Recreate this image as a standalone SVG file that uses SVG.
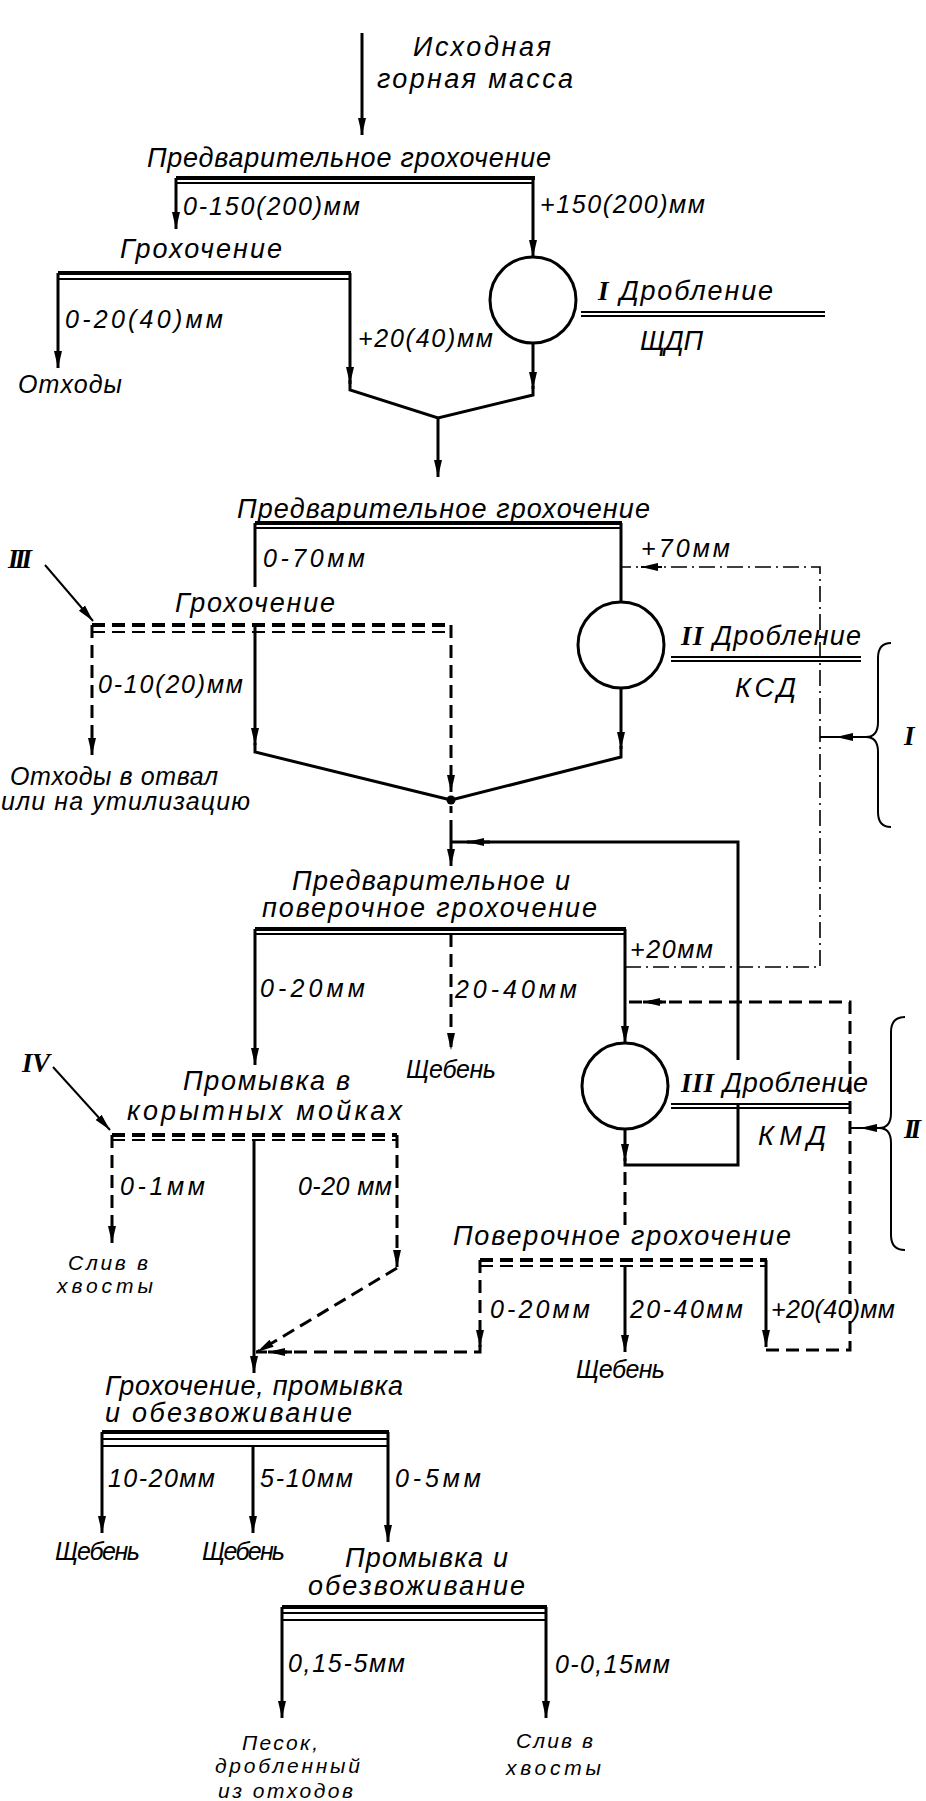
<svg xmlns="http://www.w3.org/2000/svg" width="926" height="1801" viewBox="0 0 926 1801">
<style>
.ln{stroke:#000;stroke-width:3;fill:none}
.bk{stroke:#000;stroke-width:4;fill:none}
.tn{stroke:#000;stroke-width:2;fill:none}
.ds{stroke-dasharray:13 7}
.dd{stroke:#000;stroke-width:1.6;fill:none;stroke-dasharray:16 5 2 5}
.t{font-family:"Liberation Sans","DejaVu Sans",sans-serif;font-style:italic;font-size:25px;fill:#000}
.h{font-size:27px}
.s{font-size:21px}
.r{font-family:"Liberation Serif","DejaVu Serif",serif;font-style:italic;font-weight:bold;font-size:27px;fill:#000}
</style>
<defs>
<marker id="a" markerUnits="userSpaceOnUse" markerWidth="18" markerHeight="10" refX="17" refY="5" orient="auto"><path d="M0,1 L17,5 L0,9 Z" fill="#000" stroke="none"/></marker>
</defs>
<rect width="926" height="1801" fill="#fff"/>

<g id="connectors">
<path class="ln" d="M362,33 V135" marker-end="url(#a)"/>
<path class="ln" d="M176,178 V229" marker-end="url(#a)"/>
<path class="ln" d="M533,178 V257" marker-end="url(#a)"/>
<path class="ln" d="M58,273 V368" marker-end="url(#a)"/>
<path class="ln" d="M350,273 V384" marker-end="url(#a)"/>
<path class="ln" d="M533,343 V389" marker-end="url(#a)"/>
<path class="ln" d="M533,386 V395 L438,418 L350,390 V380"/>
<path class="ln" d="M438,418 V477" marker-end="url(#a)"/>
<path class="ln" d="M255,523 V587"/>
<path class="ln" d="M255,627 V745" marker-end="url(#a)"/>
<path class="ln" d="M255,743 V752 L451,800"/>
<path class="ln" d="M621,523 V602"/>
<path class="ln" d="M621,688 V749" marker-end="url(#a)"/>
<path class="ln" d="M621,746 V757 L451,800"/>
<path class="ln ds" d="M92,625 V755" marker-end="url(#a)"/>
<path class="ln ds" d="M451,625 V792" marker-end="url(#a)"/>
<circle cx="451" cy="800" r="4.5" fill="#000"/>
<path class="ln" d="M451,806 V813"/>
<path class="ln" d="M451,820 V866" marker-end="url(#a)"/>
<path class="dd" d="M625,967 H820 V567 H621"/>
<path class="tn" d="M662,567 H641" marker-end="url(#a)"/>
<path class="tn" d="M866,737 H820"/>
<path class="tn" d="M856,737 H836" marker-end="url(#a)"/>
<path class="ln" d="M255,929 V1065" marker-end="url(#a)"/>
<path class="ln ds" d="M451,934 V1050" marker-end="url(#a)"/>
<path class="ln" d="M625,929 V1043" marker-end="url(#a)"/>
<path class="ln" d="M625,1129 V1161" marker-end="url(#a)"/>
<path class="ln" d="M625,1158 V1165 H738 V1104"/>
<path class="ln" d="M738,1060 V842 H451"/>
<path class="ln" d="M490,842 H467" marker-end="url(#a)"/>
<path class="ln ds" d="M766,1350 H850 V1002 H625"/>
<path class="ln" d="M666,1002 H643" marker-end="url(#a)"/>
<path class="tn" d="M879,1128 H850"/>
<path class="tn" d="M877,1128 H860" marker-end="url(#a)"/>
<path class="ln ds" d="M625,1172 V1232"/>
<path class="ln ds" d="M112,1135 V1243" marker-end="url(#a)"/>
<path class="ln" d="M254,1140 V1373" marker-end="url(#a)"/>
<path class="ln ds" d="M397,1135 V1267" marker-end="url(#a)"/>
<path class="ln ds" d="M397,1268 L257,1352" marker-end="url(#a)"/>
<path class="ln ds" d="M480,1260 V1347" marker-end="url(#a)"/>
<path class="ln ds" d="M480,1345 V1352 H256"/>
<path class="ln" d="M292,1352 H268" marker-end="url(#a)"/>
<path class="ln" d="M625,1266 V1352" marker-end="url(#a)"/>
<path class="ln" d="M766,1260 V1347" marker-end="url(#a)"/>
<path class="ln" d="M102,1432 V1533" marker-end="url(#a)"/>
<path class="ln" d="M253,1446 V1533" marker-end="url(#a)"/>
<path class="ln" d="M388,1432 V1542" marker-end="url(#a)"/>
<path class="ln" d="M282,1607 V1718" marker-end="url(#a)"/>
<path class="ln" d="M546,1607 V1718" marker-end="url(#a)"/>
<path class="tn" d="M45,565 L93,621" marker-end="url(#a)"/>
<path class="tn" d="M53,1067 L110,1130" marker-end="url(#a)"/>
</g>

<g id="n-feed">
<text class="t h" x="413" y="56" textLength="138">Исходная</text>
<text class="t h" x="377" y="88" textLength="196">горная масса</text>
</g>

<g id="n-screen1">
<text class="t h" x="147" y="167" textLength="404">Предварительное грохочение</text>
<path class="bk" d="M176,178 H535"/>
<path class="tn" d="M176,183 H533"/>
<text class="t" x="183" y="215" textLength="177">0-150(200)мм</text>
<text class="t" x="540" y="213" textLength="165">+150(200)мм</text>
</g>

<g id="n-screen2">
<text class="t h" x="120" y="258" textLength="162">Грохочение</text>
<path class="bk" d="M58,273 H351"/>
<path class="tn" d="M58,279 H350"/>
<text class="t" x="65" y="328" textLength="158">0-20(40)мм</text>
<text class="t" x="358" y="347" textLength="135">+20(40)мм</text>
</g>

<g id="n-waste1">
<text class="t" x="18" y="393" textLength="104">Отходы</text>
</g>

<g id="n-crusher1">
<circle class="ln" cx="533" cy="300" r="43"/>
<text class="t h" x="598" y="300" textLength="175"><tspan class="r">I</tspan> Дробление</text>
<path class="tn" d="M581,312 H825 M581,316 H825"/>
<text class="t h" x="640" y="350" textLength="63">ЩДП</text>
</g>

<g id="n-screen3">
<text class="t h" x="237" y="518" textLength="413">Предварительное грохочение</text>
<path class="bk" d="M255,523 H622"/>
<path class="tn" d="M255,528 H621"/>
<text class="t" x="263" y="567" textLength="102">0-70мм</text>
<text class="t" x="641" y="557" textLength="89">+70мм</text>
</g>

<g id="n-screen4">
<text class="r" x="8" y="568" textLength="24">III</text>
<text class="t h" x="175" y="612" textLength="160">Грохочение</text>
<path class="bk ds" d="M92,625 H452"/>
<path class="tn ds" d="M92,632 H452"/>
<text class="t" x="98" y="693" textLength="145">0-10(20)мм</text>
</g>

<g id="n-waste2">
<text class="t" x="10" y="785" textLength="208">Отходы в отвал</text>
<text class="t" x="1" y="810" textLength="249">или на утилизацию</text>
</g>

<g id="n-crusher2">
<circle class="ln" cx="621" cy="645" r="43"/>
<text class="t h" x="681" y="645" textLength="180"><tspan class="r">II</tspan> Дробление</text>
<path class="tn" d="M671,657 H861 M671,661 H861"/>
<text class="t h" x="735" y="697" textLength="61">КСД</text>
</g>

<g id="n-brace1">
<path class="tn" d="M891,643 Q878,643 878,658 L878,722 Q878,737 866,737 Q878,737 878,752 L878,812 Q878,827 891,827"/>
<text class="r" x="904" y="745">I</text>
</g>

<g id="n-screen5">
<text class="t h" x="292" y="890" textLength="278">Предварительное и</text>
<text class="t h" x="262" y="917" textLength="335">поверочное грохочение</text>
<path class="bk" d="M255,929 H626"/>
<path class="tn" d="M255,934 H625"/>
<text class="t" x="260" y="997" textLength="105">0-20мм</text>
<text class="t" x="455" y="998" textLength="122">20-40мм</text>
<text class="t" x="630" y="958" textLength="83">+20мм</text>
</g>

<g id="n-product1">
<text class="t" x="406" y="1078" textLength="90">Щебень</text>
</g>

<g id="n-crusher3">
<circle class="ln" cx="625" cy="1086" r="43"/>
<text class="t h" x="681" y="1092" textLength="187"><tspan class="r">III</tspan> Дробление</text>
<path class="tn" d="M671,1104 H850 M671,1108 H850"/>
<text class="t h" x="758" y="1145" textLength="68">КМД</text>
</g>

<g id="n-brace2">
<path class="tn" d="M905,1017 Q891,1017 891,1032 L891,1113 Q891,1128 879,1128 Q891,1128 891,1143 L891,1235 Q891,1250 905,1250"/>
<text class="r" x="904" y="1138" textLength="17">II</text>
</g>

<g id="n-washing">
<text class="r" x="22" y="1072" textLength="28">IV</text>
<text class="t h" x="183" y="1090" textLength="167">Промывка в</text>
<text class="t h" x="127" y="1120" textLength="275">корытных мойках</text>
<path class="bk ds" d="M112,1135 H397"/>
<path class="tn ds" d="M112,1140 H397"/>
<text class="t" x="120" y="1195" textLength="85">0-1мм</text>
<text class="t" x="298" y="1195" textLength="94">0-20 мм</text>
</g>

<g id="n-tail1">
<text class="t s" x="68" y="1270" textLength="80">Слив в</text>
<text class="t s" x="57" y="1293" textLength="96">хвосты</text>
</g>

<g id="n-screen6">
<text class="t h" x="453" y="1245" textLength="338">Поверочное грохочение</text>
<path class="bk ds" d="M480,1260 H767"/>
<path class="tn ds" d="M480,1266 H766"/>
<text class="t" x="490" y="1318" textLength="100">0-20мм</text>
<text class="t" x="630" y="1318" textLength="113">20-40мм</text>
<text class="t" x="771" y="1318" textLength="124">+20(40)мм</text>
</g>

<g id="n-product2">
<text class="t" x="576" y="1378" textLength="89">Щебень</text>
</g>

<g id="n-screen7">
<text class="t h" x="105" y="1395" textLength="298">Грохочение, промывка</text>
<text class="t h" x="105" y="1422" textLength="247">и обезвоживание</text>
<path class="bk" d="M102,1432 H389"/>
<path class="tn" d="M102,1439 H388 M102,1446 H388"/>
<text class="t" x="108" y="1487" textLength="107">10-20мм</text>
<text class="t" x="260" y="1487" textLength="93">5-10мм</text>
<text class="t" x="395" y="1487" textLength="86">0-5мм</text>
</g>

<g id="n-product3">
<text class="t" x="55" y="1560" textLength="85">Щебень</text>
</g>
<g id="n-product4">
<text class="t" x="202" y="1560" textLength="83">Щебень</text>
</g>

<g id="n-screen8">
<text class="t h" x="345" y="1567" textLength="163">Промывка и</text>
<text class="t h" x="308" y="1595" textLength="217">обезвоживание</text>
<path class="bk" d="M282,1607 H547"/>
<path class="tn" d="M282,1613 H546 M282,1620 H546"/>
<text class="t" x="288" y="1672" textLength="117">0,15-5мм</text>
<text class="t" x="555" y="1673" textLength="115">0-0,15мм</text>
</g>

<g id="n-sand">
<text class="t s" x="242" y="1750" textLength="76">Песок,</text>
<text class="t s" x="215" y="1773" textLength="145">дробленный</text>
<text class="t s" x="218" y="1798" textLength="135">из отходов</text>
</g>

<g id="n-tail2">
<text class="t s" x="516" y="1748" textLength="77">Слив в</text>
<text class="t s" x="506" y="1775" textLength="95">хвосты</text>
</g>
</svg>
